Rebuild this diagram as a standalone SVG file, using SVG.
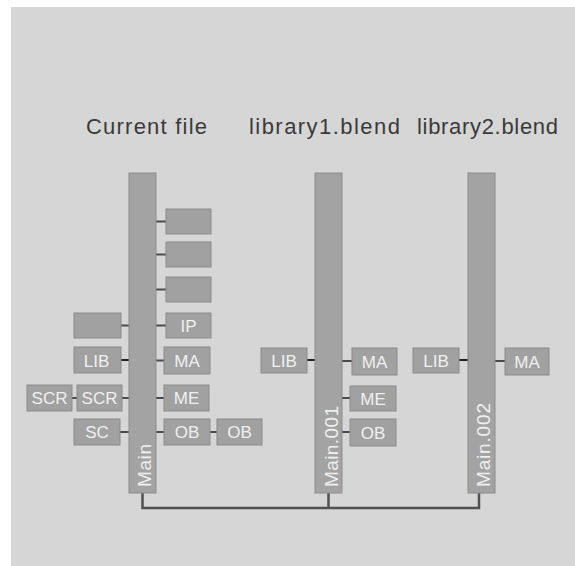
<svg xmlns="http://www.w3.org/2000/svg" width="575" height="566" viewBox="0 0 575 566">
<style>
.bg{fill:#ffffff}
.panel{fill:#d6d6d6}
.bar{fill:#a3a3a3;stroke:#8c8c8c;stroke-width:1}
.box{fill:#a1a1a1;stroke:#8a8a8a;stroke-width:1}
.title{font-family:"Liberation Sans","Lato",sans-serif;font-size:22px;fill:#3a3a3a}
.lbl{font-family:"Liberation Sans","Lato",sans-serif;font-size:17px;fill:#f0f0f0;text-anchor:middle}
.vlbl{font-family:"Liberation Sans","Lato",sans-serif;font-size:19px;fill:#f0f0f0}
.con{stroke:#4a4a4a;stroke-width:2;fill:none}
.conk{stroke:#222222;stroke-width:2;fill:none}
.bus{stroke:#505050;stroke-width:2.5;fill:none}
</style>
<rect class="bg" x="0" y="0" width="575" height="566"/>
<rect class="panel" x="11" y="7" width="564" height="559"/>

<g id="titles">
<text class="title" x="86" y="134" textLength="121" lengthAdjust="spacing">Current file</text>
<text class="title" x="249" y="134" textLength="151" lengthAdjust="spacing">library1.blend</text>
<text class="title" x="417" y="134" textLength="141" lengthAdjust="spacing">library2.blend</text>
</g>

<g id="connectors">
<line class="con" x1="156" y1="221.5" x2="166" y2="221.5"/>
<line class="con" x1="156" y1="254.5" x2="166" y2="254.5"/>
<line class="con" x1="156" y1="289.5" x2="166" y2="289.5"/>
<line class="con" x1="156" y1="325.5" x2="166" y2="325.5"/>
<line class="con" x1="156" y1="360.5" x2="164" y2="360.5"/>
<line class="con" x1="156" y1="398" x2="164" y2="398"/>
<line class="con" x1="156" y1="432" x2="164" y2="432"/>
<line class="con" x1="210" y1="432" x2="217" y2="432"/>
<line class="con" x1="121" y1="325.5" x2="129" y2="325.5"/>
<line class="conk" x1="121" y1="360" x2="129" y2="360"/>
<line class="con" x1="122" y1="398" x2="129" y2="398"/>
<line class="con" x1="72" y1="398" x2="77" y2="398"/>
<line class="con" x1="120" y1="432" x2="129" y2="432"/>
<line class="conk" x1="307" y1="360" x2="315" y2="360"/>
<line class="con" x1="342" y1="361" x2="352" y2="361"/>
<line class="con" x1="342" y1="398" x2="350" y2="398"/>
<line class="con" x1="342" y1="432" x2="350" y2="432"/>
<line class="conk" x1="459" y1="360" x2="468" y2="360"/>
<line class="con" x1="495" y1="361" x2="505" y2="361"/>
<polyline class="bus" points="142.5,493 142.5,508 479,508 479,493"/>
<line class="bus" x1="328.5" y1="493" x2="328.5" y2="508"/>
</g>

<g id="main">
<rect class="bar" x="129" y="173" width="27" height="320"/>
<text class="vlbl" transform="translate(151,487) rotate(-90)" textLength="43" lengthAdjust="spacing">Main</text>
</g>
<g id="main001">
<rect class="bar" x="315" y="173" width="27" height="320"/>
<text class="vlbl" transform="translate(338,487) rotate(-90)" textLength="81" lengthAdjust="spacing">Main.001</text>
</g>
<g id="main002">
<rect class="bar" x="468" y="173" width="27" height="320"/>
<text class="vlbl" transform="translate(490,487) rotate(-90)" textLength="84" lengthAdjust="spacing">Main.002</text>
</g>

<g id="cf-blank1"><rect class="box" x="166" y="209" width="45" height="25"/></g>
<g id="cf-blank2"><rect class="box" x="166" y="242" width="45" height="25"/></g>
<g id="cf-blank3"><rect class="box" x="166" y="277" width="45" height="25"/></g>
<g id="cf-ip"><rect class="box" x="166" y="313" width="45" height="25"/><text class="lbl" x="188.5" y="332">IP</text></g>
<g id="cf-blank-left"><rect class="box" x="74" y="313" width="47" height="25"/></g>
<g id="cf-lib"><rect class="box" x="74" y="347" width="47" height="26"/><text class="lbl" x="96.5" y="366.5">LIB</text></g>
<g id="cf-ma"><rect class="box" x="164" y="347" width="46" height="27"/><text class="lbl" x="187" y="367">MA</text></g>
<g id="cf-scr"><rect class="box" x="77" y="385" width="45" height="26"/><text class="lbl" x="99.5" y="404">SCR</text></g>
<g id="cf-scr2"><rect class="box" x="27" y="385" width="45" height="26"/><text class="lbl" x="49.5" y="404">SCR</text></g>
<g id="cf-me"><rect class="box" x="164" y="385" width="45" height="26"/><text class="lbl" x="186.5" y="404">ME</text></g>
<g id="cf-sc"><rect class="box" x="74" y="419" width="46" height="26"/><text class="lbl" x="97" y="438">SC</text></g>
<g id="cf-ob"><rect class="box" x="164" y="419" width="46" height="26"/><text class="lbl" x="187" y="438">OB</text></g>
<g id="cf-ob2"><rect class="box" x="217" y="419" width="45" height="26"/><text class="lbl" x="239.5" y="438">OB</text></g>

<g id="l1-lib"><rect class="box" x="261" y="348" width="46" height="25"/><text class="lbl" x="284" y="366.5">LIB</text></g>
<g id="l1-ma"><rect class="box" x="352" y="348" width="45" height="27"/><text class="lbl" x="374.5" y="367.5">MA</text></g>
<g id="l1-me"><rect class="box" x="350" y="386" width="46" height="25"/><text class="lbl" x="373" y="404.5">ME</text></g>
<g id="l1-ob"><rect class="box" x="350" y="419" width="46" height="27"/><text class="lbl" x="373" y="438.5">OB</text></g>

<g id="l2-lib"><rect class="box" x="413" y="348" width="46" height="25"/><text class="lbl" x="436" y="366.5">LIB</text></g>
<g id="l2-ma"><rect class="box" x="505" y="348" width="44" height="27"/><text class="lbl" x="527" y="367.5">MA</text></g>
</svg>
